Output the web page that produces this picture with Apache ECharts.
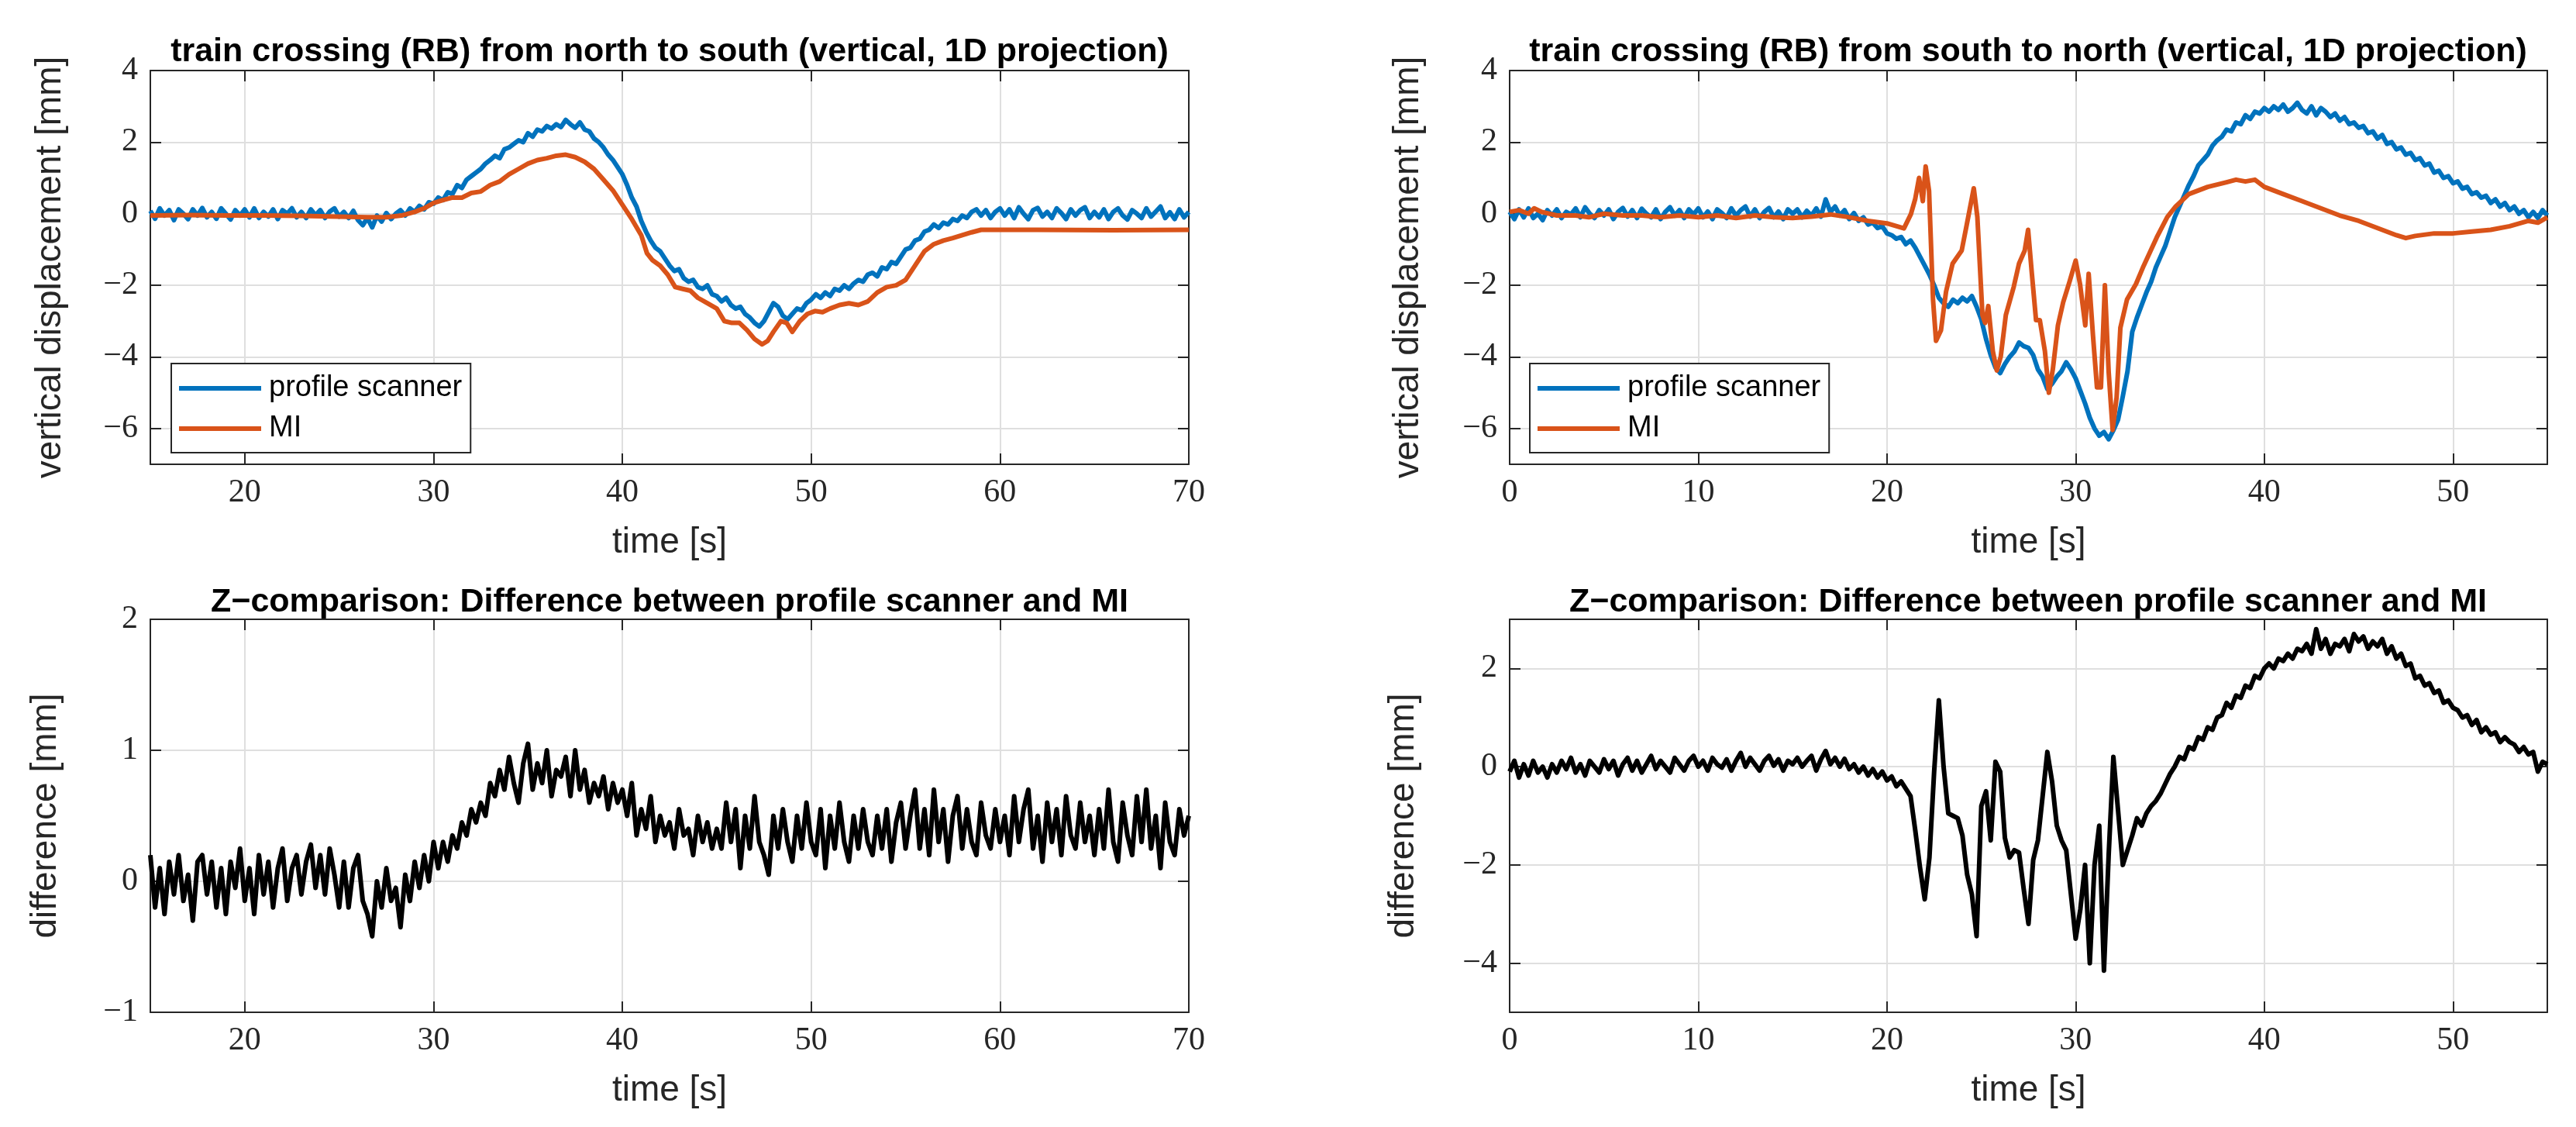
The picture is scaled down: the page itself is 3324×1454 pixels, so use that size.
<!DOCTYPE html>
<html>
<head>
<meta charset="utf-8">
<title>train crossing (RB) - profile scanner vs MI</title>
<script src="https://cdn.jsdelivr.net/npm/echarts@6.0.0/dist/echarts.min.js"></script>
<style>
html, body { margin: 0; padding: 0; background: #fff; }
#main { width: 3324px; height: 1454px; }
</style>
</head>
<body>
<div id="main"></div>
<script>
// ---- north -> south crossing, scanner and difference sampled every 0.25 s from 15 s
var nsStart = 15, nsStep = 0.25;
var nsScanner = [
	0.08, -0.14, 0.15, -0.05, 0.1, -0.18, 0.12, 0.0, -0.15, 0.12, -0.05, 0.16, -0.1, 0.05, -0.14, 0.15, 0.0, -0.16, 0.1, -0.05, 0.12,
	-0.1, 0.15, -0.12, 0.05, -0.08, 0.12, -0.15, 0.1, 0.0, 0.15, -0.1, 0.05, -0.12, 0.12, -0.04, 0.1, -0.12, 0.06, 0.15, -0.08,
	0.05, -0.12, 0.08, -0.18, -0.32, -0.12, -0.38, -0.05, -0.22, 0.02, -0.15, 0.0, 0.1, -0.05, 0.15, 0.05, 0.22, 0.12, 0.32, 0.28,
	0.45, 0.38, 0.6, 0.55, 0.8, 0.72, 0.95, 1.05, 1.15, 1.25, 1.4, 1.5, 1.62, 1.55, 1.8, 1.85, 1.95, 2.05, 2.0, 2.25,
	2.15, 2.35, 2.3, 2.45, 2.38, 2.5, 2.42, 2.62, 2.5, 2.4, 2.55, 2.35, 2.3, 2.1, 2.0, 1.85, 1.65, 1.5, 1.3, 1.1,
	0.8, 0.45, 0.2, -0.2, -0.5, -0.75, -0.95, -1.05, -1.25, -1.45, -1.6, -1.55, -1.8, -1.9, -1.85, -2.05, -2.1, -2.0, -2.25, -2.3,
	-2.45, -2.35, -2.55, -2.65, -2.6, -2.8, -2.9, -3.05, -3.15, -3.0, -2.75, -2.5, -2.6, -2.85, -2.95, -2.8, -2.65, -2.7, -2.5, -2.4,
	-2.25, -2.35, -2.2, -2.3, -2.1, -2.15, -2.0, -2.1, -1.95, -1.85, -1.9, -1.7, -1.65, -1.75, -1.5, -1.55, -1.35, -1.4, -1.2, -1.0,
	-0.95, -0.75, -0.7, -0.5, -0.45, -0.3, -0.4, -0.25, -0.3, -0.15, -0.2, -0.05, -0.12, 0.05, 0.12, -0.05, 0.1, -0.12, 0.05, 0.15,
	-0.05, 0.12, -0.12, 0.18, 0.0, -0.15, 0.1, 0.16, -0.08, 0.05, -0.12, 0.15, 0.02, -0.15, 0.12, -0.05, 0.1, 0.18, -0.12, 0.05,
	-0.1, 0.12, -0.15, 0.05, 0.15, -0.05, -0.16, 0.1, 0.0, -0.12, 0.15, -0.08, 0.06, 0.2, -0.12, 0.04, -0.15, 0.12, -0.1, 0.05
];
// MI is smooth: [time, value]
var nsMI = [
	[15, -0.05], [17, -0.04], [19, -0.05], [21, -0.05], [23, -0.06], [25, -0.08], [26.5, -0.1], [27.5, -0.1], [28.3, -0.05],
	[29, 0.05], [29.5, 0.15], [30, 0.3], [30.5, 0.38], [31, 0.45], [31.5, 0.45], [32, 0.58], [32.5, 0.62], [33, 0.8],
	[33.5, 0.9], [34, 1.1], [34.5, 1.25], [35, 1.4], [35.5, 1.5], [36, 1.55], [36.5, 1.62], [37, 1.65], [37.5, 1.58],
	[38, 1.45], [38.5, 1.25], [39, 0.95], [39.5, 0.65], [40, 0.25], [40.5, -0.15], [41, -0.6], [41.3, -1.1], [41.6, -1.3],
	[42, -1.45], [42.4, -1.7], [42.8, -2.05], [43.2, -2.1], [43.6, -2.15], [44, -2.35], [44.5, -2.5], [45, -2.65],
	[45.4, -3.0], [45.8, -3.05], [46.2, -3.05], [46.6, -3.25], [47, -3.5], [47.4, -3.65], [47.7, -3.55], [48, -3.3],
	[48.4, -3.0], [48.7, -3.05], [49, -3.3], [49.4, -3.0], [49.8, -2.8], [50.2, -2.72], [50.6, -2.75], [51, -2.65],
	[51.5, -2.55], [52, -2.5], [52.5, -2.55], [53, -2.45], [53.5, -2.2], [54, -2.05], [54.5, -2.0], [55, -1.85],
	[55.5, -1.45], [56, -1.05], [56.5, -0.85], [57, -0.75], [57.5, -0.68], [58, -0.6], [58.5, -0.52], [59, -0.45],
	[62, -0.45], [66, -0.46], [70, -0.45]
];
var nsDiff = [
	0.2, -0.2, 0.1, -0.25, 0.15, -0.1, 0.2, -0.15, 0.05, -0.3, 0.15, 0.2, -0.1, 0.15, -0.2, 0.1, -0.25, 0.15, -0.05, 0.25, -0.15,
	0.1, -0.25, 0.2, -0.1, 0.15, -0.2, 0.1, 0.25, -0.15, 0.1, 0.2, -0.1, 0.15, 0.28, -0.05, 0.2, -0.1, 0.25, 0.05, -0.2,
	0.15, -0.2, 0.1, 0.2, -0.15, -0.25, -0.42, 0.0, -0.2, 0.1, -0.15, -0.05, -0.35, 0.05, -0.15, 0.15, -0.05, 0.2, 0.0, 0.3,
	0.1, 0.3, 0.15, 0.35, 0.25, 0.45, 0.35, 0.55, 0.45, 0.6, 0.5, 0.75, 0.65, 0.85, 0.7, 0.95, 0.75, 0.6, 0.9, 1.05,
	0.7, 0.9, 0.75, 1.0, 0.65, 0.85, 0.8, 0.95, 0.65, 1.0, 0.7, 0.85, 0.6, 0.75, 0.65, 0.8, 0.55, 0.75, 0.6, 0.7,
	0.5, 0.75, 0.35, 0.55, 0.4, 0.65, 0.3, 0.5, 0.35, 0.45, 0.25, 0.55, 0.35, 0.4, 0.2, 0.5, 0.3, 0.45, 0.25, 0.4,
	0.25, 0.6, 0.3, 0.55, 0.1, 0.5, 0.25, 0.65, 0.3, 0.2, 0.05, 0.5, 0.25, 0.55, 0.3, 0.15, 0.5, 0.25, 0.6, 0.3,
	0.2, 0.55, 0.1, 0.5, 0.25, 0.6, 0.3, 0.15, 0.5, 0.25, 0.55, 0.3, 0.2, 0.5, 0.25, 0.55, 0.15, 0.45, 0.6, 0.25,
	0.5, 0.7, 0.25, 0.55, 0.2, 0.7, 0.3, 0.55, 0.15, 0.5, 0.65, 0.25, 0.55, 0.3, 0.2, 0.6, 0.35, 0.25, 0.55, 0.3,
	0.5, 0.2, 0.65, 0.3, 0.55, 0.7, 0.25, 0.5, 0.15, 0.6, 0.3, 0.55, 0.2, 0.65, 0.35, 0.25, 0.6, 0.3, 0.5, 0.2,
	0.55, 0.25, 0.7, 0.3, 0.15, 0.6, 0.35, 0.2, 0.65, 0.3, 0.7, 0.25, 0.5, 0.1, 0.6, 0.3, 0.2, 0.55, 0.35, 0.5
];

// ---- south -> north crossing, sampled every 0.25 s from 0 s
var snStart = 0, snStep = 0.25;
var snScanner = [
	0.05, -0.15, 0.12, -0.1, 0.15, -0.12, 0.0, -0.18, 0.1, -0.05, 0.12, -0.12, 0.05, -0.02, 0.15, -0.1, 0.18, 0.0, -0.12, 0.1, -0.05,
	0.12, -0.15, 0.05, 0.16, -0.08, 0.1, -0.12, 0.14, 0.0, -0.1, 0.12, -0.15, 0.05, 0.18, -0.05, 0.1, -0.12, 0.12, -0.02, 0.15,
	-0.1, 0.06, -0.15, 0.12, 0.02, -0.12, 0.15, -0.05, 0.1, 0.2, -0.08, 0.12, -0.12, 0.05, 0.16, -0.1, 0.06, -0.15, 0.12, 0.0,
	0.12, -0.1, 0.08, -0.05, 0.15, -0.08, 0.4, 0.05, 0.2, -0.05, 0.1, -0.15, 0.02, -0.2, -0.1, -0.3, -0.25, -0.4, -0.35, -0.55,
	-0.6, -0.7, -0.65, -0.85, -0.75, -0.95, -1.2, -1.45, -1.7, -2.0, -2.35, -2.5, -2.6, -2.4, -2.5, -2.35, -2.45, -2.3, -2.6, -2.95,
	-3.5, -3.95, -4.3, -4.45, -4.2, -4.0, -3.85, -3.6, -3.7, -3.75, -3.95, -4.35, -4.55, -4.9, -4.75, -4.55, -4.4, -4.15, -4.35, -4.6,
	-4.95, -5.3, -5.7, -6.0, -6.2, -6.1, -6.3, -6.05, -5.75, -5.1, -4.4, -3.3, -2.9, -2.55, -2.2, -1.9, -1.5, -1.2, -0.9, -0.5,
	-0.1, 0.2, 0.5, 0.8, 1.05, 1.35, 1.5, 1.65, 1.9, 2.05, 2.15, 2.35, 2.3, 2.55, 2.5, 2.75, 2.65, 2.85, 2.8, 2.95,
	2.85, 3.0, 2.9, 3.05, 2.85, 2.95, 3.1, 2.9, 2.8, 3.0, 2.75, 2.95, 2.85, 2.7, 2.8, 2.6, 2.7, 2.5, 2.55, 2.4,
	2.45, 2.25, 2.3, 2.1, 2.2, 1.95, 2.0, 1.8, 1.85, 1.65, 1.7, 1.5, 1.55, 1.35, 1.4, 1.15, 1.2, 1.0, 1.05, 0.85,
	0.9, 0.7, 0.75, 0.55, 0.6, 0.45, 0.5, 0.3, 0.4, 0.2, 0.3, 0.1, 0.2, 0.0, 0.1, -0.1, 0.05, -0.12, 0.1, -0.05
];
var snMI = [
	[0, 0.05], [0.5, 0.1], [1, 0.0], [1.3, 0.15], [1.7, 0.05], [2.5, -0.05], [3.5, -0.05], [4.2, -0.1], [5, 0.0], [6, -0.05],
	[7, -0.05], [8, -0.1], [9, -0.05], [10, -0.1], [11, -0.05], [12, -0.12], [13, -0.05], [14, -0.1], [15, -0.12], [16, -0.08],
	[17, -0.02], [17.9, -0.09], [19, -0.2], [20, -0.27], [20.9, -0.41], [21.27, -0.01], [21.5, 0.42], [21.7, 1.0], [21.9, 0.35],
	[22.05, 1.32], [22.23, 0.64], [22.44, -2.4], [22.6, -3.55], [22.86, -3.26], [23.13, -2.18], [23.48, -1.39], [23.96, -1.03],
	[24.23, -0.3], [24.6, 0.71], [24.79, -0.09], [25.06, -2.83], [25.2, -3.05], [25.37, -2.58], [25.61, -3.84], [25.82, -4.38],
	[26.03, -3.99], [26.3, -2.83], [26.72, -2.04], [27.0, -1.39], [27.3, -1.03], [27.48, -0.45], [27.68, -1.68], [27.9, -2.97],
	[28.1, -2.97], [28.37, -3.84], [28.58, -5.0], [28.79, -4.35], [29.06, -3.12], [29.34, -2.47], [29.68, -1.89], [30.0, -1.31],
	[30.23, -1.96], [30.51, -3.12], [30.69, -1.68], [30.92, -3.41], [31.13, -4.85], [31.34, -4.85], [31.55, -2.0], [31.75, -4.42],
	[31.96, -6.04], [32.17, -5.14], [32.37, -3.19], [32.72, -2.4], [33.2, -1.96], [33.6, -1.46], [34.3, -0.66], [34.86, -0.09],
	[35.3, 0.2], [36, 0.55], [37, 0.75], [38, 0.88], [38.5, 0.95], [39, 0.9], [39.5, 0.95], [40, 0.75], [41, 0.55], [42, 0.35],
	[43, 0.15], [44, -0.05], [45, -0.2], [46, -0.4], [47, -0.6], [47.5, -0.68], [48, -0.62], [49, -0.55], [50, -0.55],
	[51, -0.5], [52, -0.45], [53, -0.35], [54, -0.2], [54.5, -0.25], [55, -0.1]
];
var snDiff = [
	-0.1, 0.12, -0.22, 0.05, -0.18, 0.12, -0.12, 0.0, -0.22, 0.05, -0.12, 0.12, -0.05, 0.18, -0.12, 0.05, -0.18, 0.12, 0.0, -0.12, 0.15,
	-0.05, 0.12, -0.18, 0.05, 0.18, -0.08, 0.12, -0.12, 0.05, 0.22, -0.05, 0.12, 0.0, -0.12, 0.18, 0.05, -0.08, 0.12, 0.22, 0.0,
	0.12, -0.08, 0.18, 0.05, -0.02, 0.15, -0.08, 0.12, 0.28, 0.0, 0.18, 0.05, -0.08, 0.12, 0.22, 0.02, 0.15, -0.08, 0.12, 0.05,
	0.18, 0.0, 0.12, 0.22, -0.08, 0.15, 0.32, 0.05, 0.18, 0.0, 0.16, -0.05, 0.05, -0.12, 0.0, -0.18, -0.05, -0.22, -0.1, -0.28,
	-0.2, -0.4, -0.3, -0.45, -0.6, -1.3, -2.05, -2.7, -1.85, -0.1, 1.35, 0.0, -0.95, -1.0, -1.05, -1.4, -2.2, -2.6, -3.45, -0.8,
	-0.5, -1.5, 0.1, -0.1, -1.45, -1.85, -1.7, -1.75, -2.5, -3.2, -1.9, -1.5, -0.6, 0.3, -0.3, -1.2, -1.5, -1.7, -2.6, -3.5,
	-2.9, -2.0, -4.0, -2.0, -1.2, -4.15, -1.8, 0.2, -0.9, -2.0, -1.7, -1.4, -1.05, -1.2, -0.95, -0.8, -0.7, -0.55, -0.35, -0.15,
	0.0, 0.2, 0.15, 0.4, 0.35, 0.6, 0.55, 0.8, 0.75, 1.0, 1.05, 1.3, 1.2, 1.45, 1.4, 1.65, 1.6, 1.85, 1.8, 2.0,
	2.1, 2.0, 2.2, 2.15, 2.3, 2.2, 2.4, 2.35, 2.5, 2.3, 2.8, 2.4, 2.6, 2.3, 2.5, 2.45, 2.6, 2.35, 2.7, 2.55,
	2.65, 2.4, 2.55, 2.45, 2.6, 2.3, 2.45, 2.2, 2.3, 2.05, 2.1, 1.8, 1.85, 1.65, 1.7, 1.5, 1.55, 1.3, 1.35, 1.2,
	1.15, 1.0, 1.05, 0.85, 0.95, 0.7, 0.8, 0.65, 0.7, 0.5, 0.6, 0.5, 0.45, 0.3, 0.4, 0.25, 0.3, -0.1, 0.1, 0.05
];

var titleTop = ['train crossing (RB) from north to south (vertical, 1D projection)',
                'train crossing (RB) from south to north (vertical, 1D projection)'];
var titleBottom = 'Z\u2212comparison: Difference between profile scanner and MI';
var legendNames = ['profile scanner', 'MI'];

var SANS = '"Liberation Sans", Arial, Helvetica, sans-serif';
var SERIF = '"Liberation Serif", "DejaVu Serif", serif';
var INK = '#262626';

// the four panels in pixels
var grids = [
	{left: 194, top: 91, width: 1340, height: 508},
	{left: 1948, top: 91, width: 1339, height: 508},
	{left: 194, top: 799, width: 1340, height: 507},
	{left: 1948, top: 799, width: 1339, height: 507}
];

function toPairs(start, step, values){
	var out = [];
	for (var i = 0; i < values.length; i++){
		out.push([+(start + i * step).toFixed(2), values[i]]);
	}
	return out;
}

function minusFmt(v){
	return String(v).replace('-', '\u2212');
}

// main axis with labels / grid, or a bare mirror axis for the box ticks
function makeAxis(gi, pos, range, extra, mirror){
	var ax = {
		type: 'value',
		gridIndex: gi,
		position: pos,
		min: range[0],
		max: range[1],
		axisLine: {show: true, onZero: false, lineStyle: {color: INK, width: 2}},
		axisTick: {show: true, inside: true, length: 14, lineStyle: {color: INK, width: 2}},
		axisLabel: {show: !mirror, margin: 16, fontFamily: SERIF, fontSize: 42, color: INK, formatter: minusFmt},
		splitLine: {show: !mirror, lineStyle: {color: '#dfdfdf', width: 2}}
	};
	for (var k in extra){
		if (k == 'axisLabel'){
			for (var j in extra[k]) ax.axisLabel[j] = extra[k][j];
		} else {
			ax[k] = extra[k];
		}
	}
	return ax;
}

var xName = {name: 'time [s]', nameLocation: 'middle', nameGap: 78,
	nameTextStyle: {fontFamily: SANS, fontSize: 46, color: INK}};
function yName(txt, gap){
	return {name: txt, nameLocation: 'middle', nameGap: gap,
		nameTextStyle: {fontFamily: SANS, fontSize: 46, color: INK}};
}
function merge(a, b){
	var o = {};
	for (var k in a) o[k] = a[k];
	for (var k2 in b) o[k2] = b[k2];
	return o;
}

var xCfg = [
	{range: [15, 70], extra: {splitNumber: 5, axisLabel: {showMinLabel: false}}},
	{range: [0, 55], extra: {splitNumber: 5, axisLabel: {showMaxLabel: false}}},
	{range: [15, 70], extra: {splitNumber: 5, axisLabel: {showMinLabel: false}}},
	{range: [0, 55], extra: {splitNumber: 5, axisLabel: {showMaxLabel: false}}}
];
var yCfg = [
	{range: [-7, 4], extra: {splitNumber: 5, axisLabel: {showMinLabel: false}}, name: 'vertical displacement [mm]', gap: 106},
	{range: [-7, 4], extra: {splitNumber: 5, axisLabel: {showMinLabel: false}}, name: 'vertical displacement [mm]', gap: 108},
	{range: [-1, 2], extra: {interval: 1}, name: 'difference [mm]', gap: 112},
	{range: [-5, 3], extra: {splitNumber: 5, axisLabel: {showMinLabel: false, showMaxLabel: false}}, name: 'difference [mm]', gap: 114}
];

var xAxes = [], yAxes = [];
for (var g = 0; g < 4; g++){
	xAxes.push(makeAxis(g, 'bottom', xCfg[g].range, merge(xCfg[g].extra, xName), false));
	yAxes.push(makeAxis(g, 'left', yCfg[g].range, merge(yCfg[g].extra, yName(yCfg[g].name, yCfg[g].gap)), false));
}
for (var h = 0; h < 4; h++){
	xAxes.push(makeAxis(h, 'top', xCfg[h].range, {splitNumber: xCfg[h].extra.splitNumber}, true));
	yAxes.push(makeAxis(h, 'right', yCfg[h].range,
		yCfg[h].extra.interval ? {interval: yCfg[h].extra.interval} : {splitNumber: yCfg[h].extra.splitNumber}, true));
}

function lineSeries(name, gi, data, color, width){
	return {
		name: name,
		type: 'line',
		xAxisIndex: gi,
		yAxisIndex: gi,
		data: data,
		showSymbol: false,
		symbol: 'none',
		smooth: false,
		lineStyle: {color: color, width: width, join: 'round'},
		itemStyle: {color: color},
		emphasis: {disabled: true},
		silent: true
	};
}

function legendAt(left, top){
	return {
		data: legendNames,
		orient: 'vertical',
		left: left,
		top: top,
		icon: 'rect',
		itemWidth: 106,
		itemHeight: 6,
		itemGap: 8,
		padding: [10, 11, 9, 10],
		borderColor: INK,
		borderWidth: 2,
		borderRadius: 0,
		backgroundColor: '#fff',
		selectedMode: false,
		textStyle: {fontFamily: SANS, fontSize: 38, color: '#000', lineHeight: 44, padding: [0, 0, 0, 5]}
	};
}

function titleText(txt, cx, cy){
	return {
		type: 'text',
		x: cx,
		y: cy,
		silent: true,
		style: {
			text: txt,
			fontFamily: SANS,
			fontSize: 43,
			fontWeight: 'bold',
			fill: '#000',
			textAlign: 'center',
			textVerticalAlign: 'middle',
			align: 'center',
			verticalAlign: 'middle'
		}
	};
}

var chart = echarts.init(document.getElementById('main'), null, {renderer: 'canvas'});
chart.setOption({
	backgroundColor: '#fff',
	animation: false,
	grid: grids.map(function(r){
		return {left: r.left, top: r.top, width: r.width, height: r.height, containLabel: false, outerBoundsMode: 'none'};
	}),
	xAxis: xAxes,
	yAxis: yAxes,
	legend: [legendAt(221, 469), legendAt(1974, 469)],
	graphic: [
		titleText(titleTop[0], 864, 67),
		titleText(titleTop[1], 2617, 67),
		titleText(titleBottom, 864, 777),
		titleText(titleBottom, 2617, 777)
	],
	series: [
		lineSeries(legendNames[0], 0, toPairs(nsStart, nsStep, nsScanner), '#0072BD', 6),
		lineSeries(legendNames[1], 0, nsMI, '#D95319', 6),
		lineSeries(legendNames[0], 1, toPairs(snStart, snStep, snScanner), '#0072BD', 6),
		lineSeries(legendNames[1], 1, snMI, '#D95319', 6),
		lineSeries('difference', 2, toPairs(nsStart, nsStep, nsDiff), '#000000', 6),
		lineSeries('difference', 3, toPairs(snStart, snStep, snDiff), '#000000', 6)
	]
});
</script>
</body>
</html>
